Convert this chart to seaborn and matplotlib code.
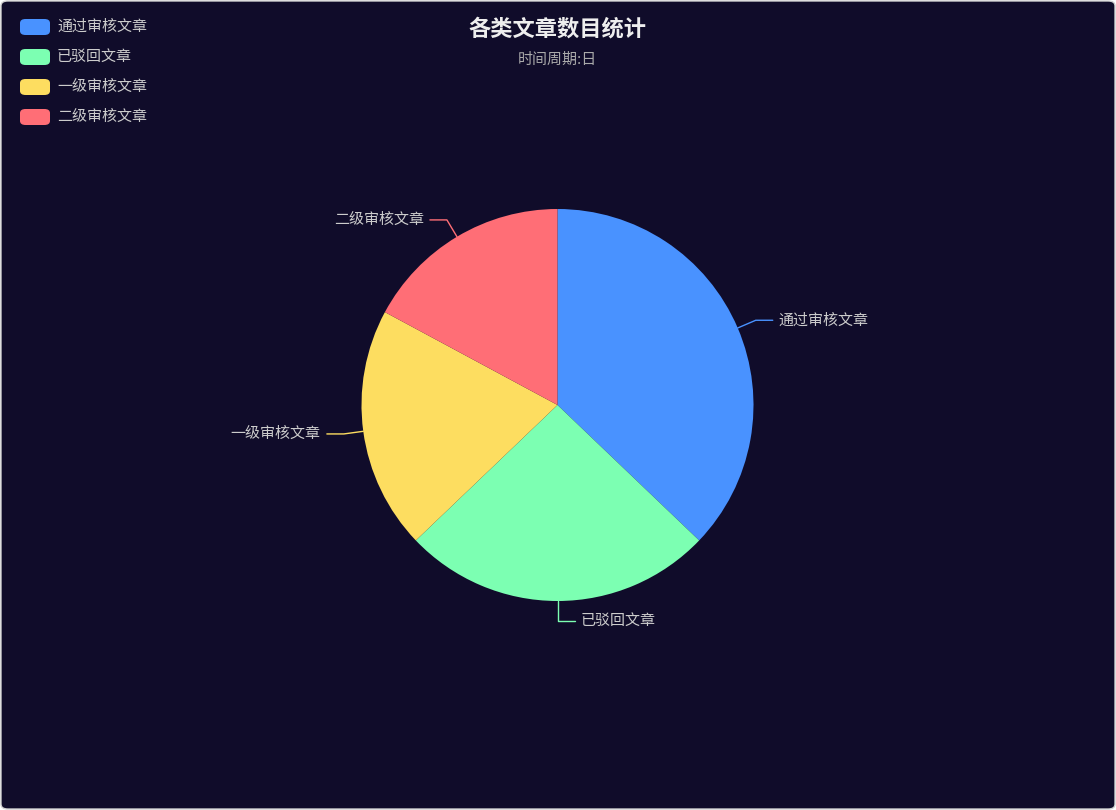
import numpy as np
import matplotlib
matplotlib.use("Agg")
import matplotlib.pyplot as plt
import seaborn as sns
from matplotlib.patches import FancyBboxPatch

categories = ["通过审核文章", "已驳回文章", "一级审核文章", "二级审核文章"]
values = [13, 9, 7, 6]
colors = ["#4992ff", "#7cffb2", "#fddd60", "#ff6e76"]
title = "各类文章数目统计"
subtitle = "时间周期:日"

sns.set_theme(style="dark")
plt.rcParams["font.family"] = ["Noto Sans CJK SC", "DejaVu Sans"]

W, H = 1116, 810
bg = "#100c2a"
fig = plt.figure(figsize=(W / 100, H / 100), dpi=100, facecolor="white")
fig.patches.append(FancyBboxPatch((1 / W, 1 / H), (W - 2) / W, (H - 2) / H,
                                  boxstyle="round,pad=0,rounding_size=0.006",
                                  transform=fig.transFigure, facecolor=bg,
                                  edgecolor="#d0d0d0", linewidth=1, zorder=-10))

fig.text(557 / W, 1 - 29 / H, title, ha="center", va="center", fontsize=16,
         fontweight="bold", color="#eeeeee")
fig.text(557 / W, 1 - 60 / H, subtitle, ha="center", va="center", fontsize=10.8,
         color="#aaaaaa")

# legend
for i, (cat, col) in enumerate(zip(categories, colors)):
    yc = 27 + 30 * i
    fig.patches.append(FancyBboxPatch((20 / W, 1 - (yc + 8) / H), 30 / W, 16 / H,
                                      boxstyle="round,pad=0,rounding_size=0.005",
                                      transform=fig.transFigure, facecolor=col,
                                      edgecolor="none", zorder=2))
    fig.text(57 / W, 1 - yc / H, cat, ha="left", va="center", fontsize=10.8,
             color="#cccccc")

# pie
cx, cy, r = 557.5, 405, 196
ax = fig.add_axes([(cx - r) / W, (H - cy - r) / H, 2 * r / W, 2 * r / H])
ax.set_facecolor("none")
wedges, _ = ax.pie(values, colors=colors, startangle=90, counterclock=False,
                   radius=1, wedgeprops=dict(linewidth=0))
ax.set_xlim(-1, 1)
ax.set_ylim(-1, 1)
ax.set_aspect("equal")
ax.axis("off")

total = sum(values)
start = 90.0
for cat, v, col in zip(categories, values, colors):
    span = 360.0 * v / total
    mid = np.deg2rad(start - span / 2)
    start -= span
    x0, y0 = np.cos(mid), np.sin(mid)
    x1, y1 = 1.1 * x0, 1.1 * y0
    side = 1 if x0 >= -1e-6 else -1
    x2 = x1 + side * 17 / r
    ax.plot([x0, x1, x2], [y0, y1, y1], color=col, lw=1, clip_on=False)
    ax.text(x2 + side * 6 / r, y1, cat, ha="left" if side > 0 else "right",
            va="center", fontsize=10.8, color="#cccccc", clip_on=False)

fig.savefig("out.png", dpi=100, facecolor="white")
